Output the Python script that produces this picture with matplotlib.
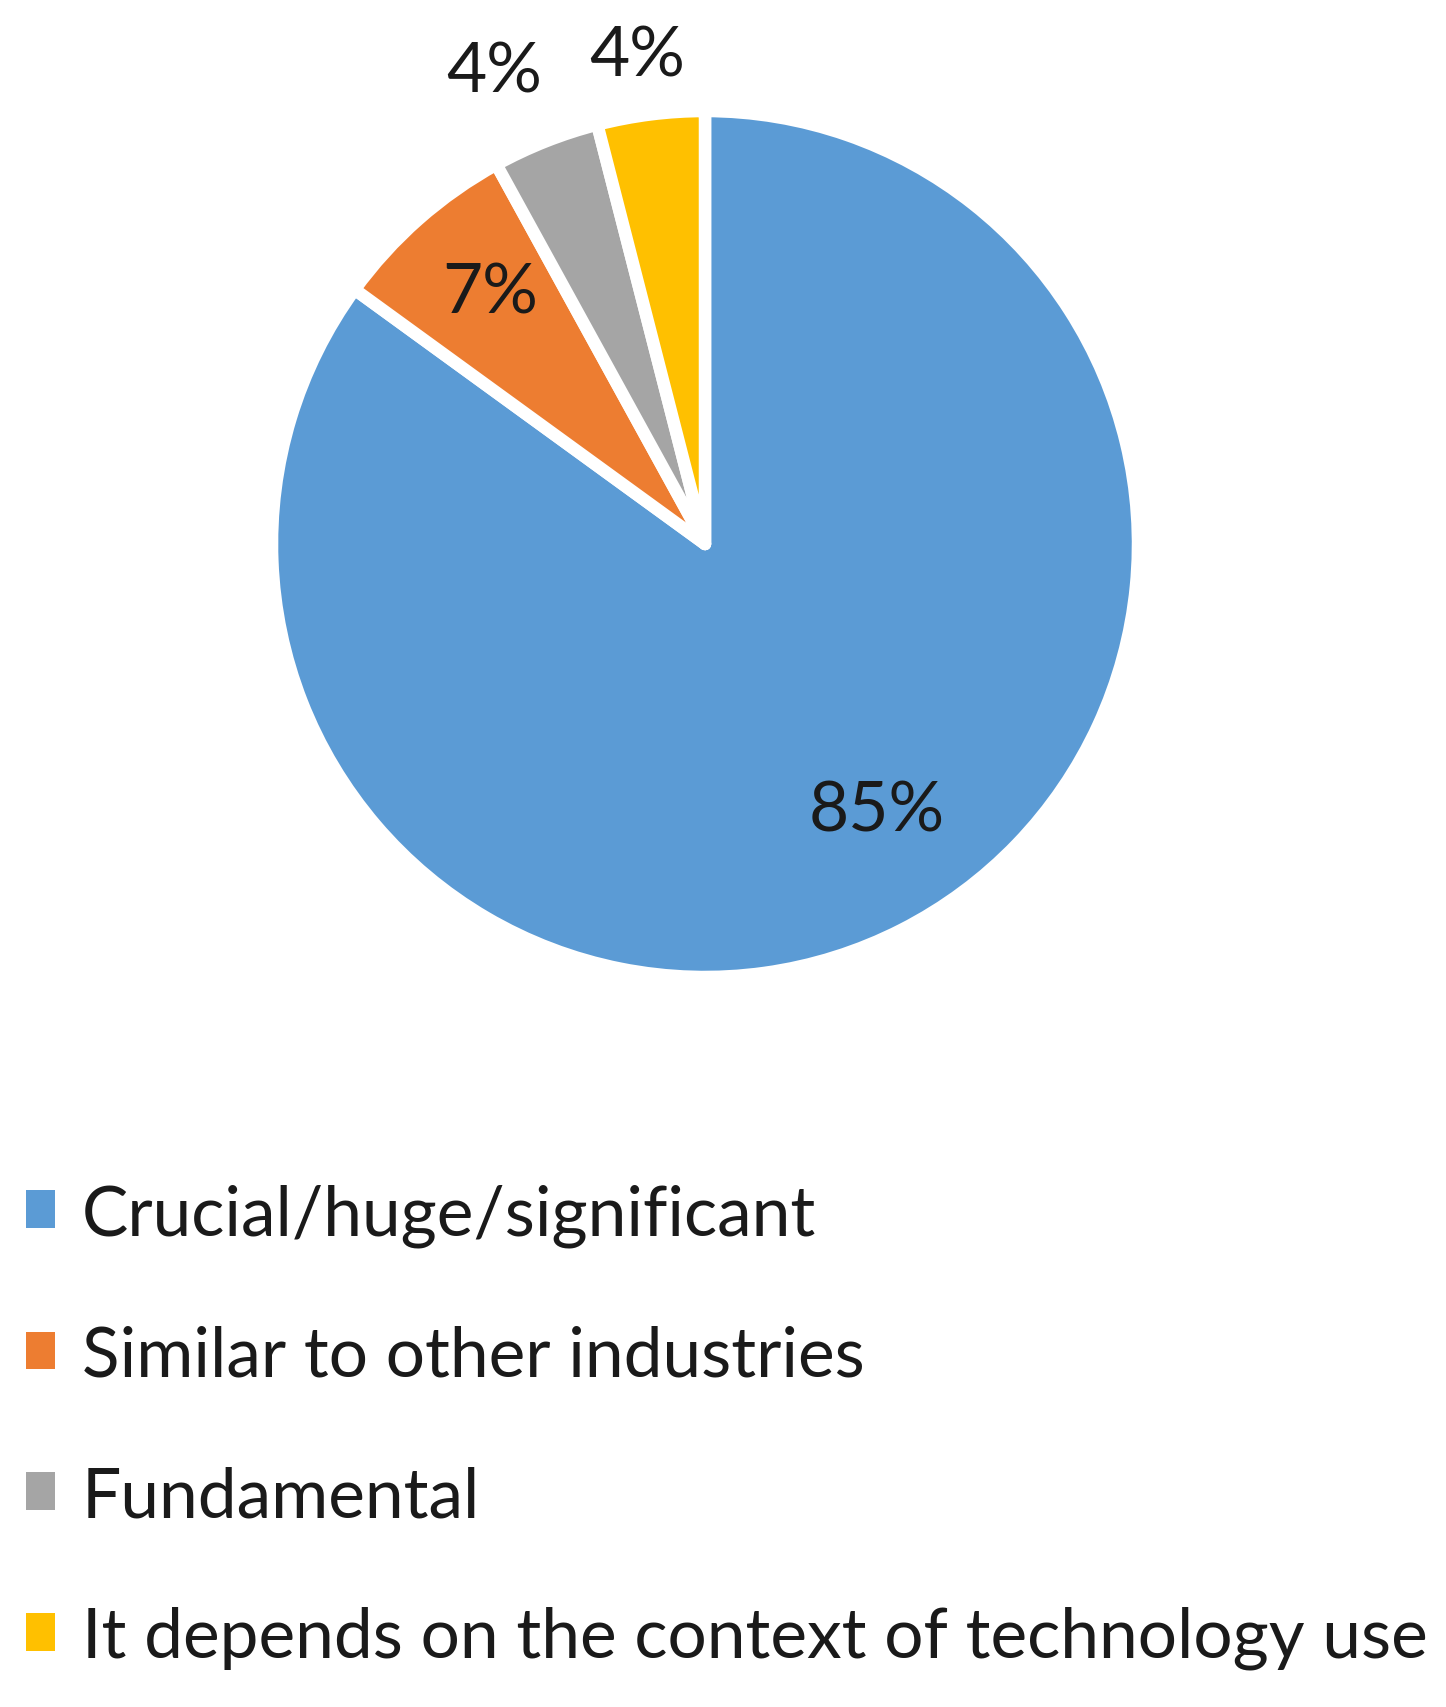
import matplotlib
matplotlib.use("Agg")
import matplotlib.pyplot as plt
import numpy as np
from matplotlib.patches import Patch

categories = ["Crucial/huge/significant", "Similar to other industries",
              "Fundamental", "It depends on the context of technology use"]
values = [85, 7, 4, 4]
pct_labels = ["85%", "7%", "4%", "4%"]
label_dist = [0.744, 0.774, 1.21, 1.154]
label_angle_shift = [5.8, -0.8, 2.5, 0.7]
colors = ["#5B9BD5", "#ED7D31", "#A5A5A5", "#FFC000"]

W, H = 1446, 1708
fig = plt.figure(figsize=(W / 100, H / 100), dpi=100)
plt.rcParams['font.family'] = ['Lato', 'DejaVu Sans']

cx, cy, R = 705, 545, 433
ax = fig.add_axes([(cx - R) / W, (H - cy - R) / H, 2 * R / W, 2 * R / H])
wedges, _ = ax.pie(values, colors=colors, startangle=90, counterclock=False,
                   radius=1.0, wedgeprops=dict(edgecolor="white", linewidth=9,
                                               joinstyle="round"))
ax.set_xlim(-1, 1)
ax.set_ylim(-1, 1)
ax.set_aspect("equal")
ax.axis("off")

r_in = 427 / 433
for w, lab, d, sh in zip(wedges, pct_labels, label_dist, label_angle_shift):
    mid = np.deg2rad((w.theta1 + w.theta2) / 2 + sh)
    ax.text(d * r_in * np.cos(mid), d * r_in * np.sin(mid), lab,
            ha="center", va="center", fontsize=50, color="#1a1a1a", clip_on=False)

handles = [Patch(facecolor=c, edgecolor="none") for c in colors]
fig.legend(handles, categories, loc="upper left",
           bbox_to_anchor=(26 / W, 1 - 1184 / H), frameon=False,
           fontsize=50, handlelength=0.42, handleheight=0.46,
           handletextpad=0.38, labelspacing=1.12, borderpad=0, borderaxespad=0,
           labelcolor="#1a1a1a")

fig.savefig("out.png", dpi=100)
